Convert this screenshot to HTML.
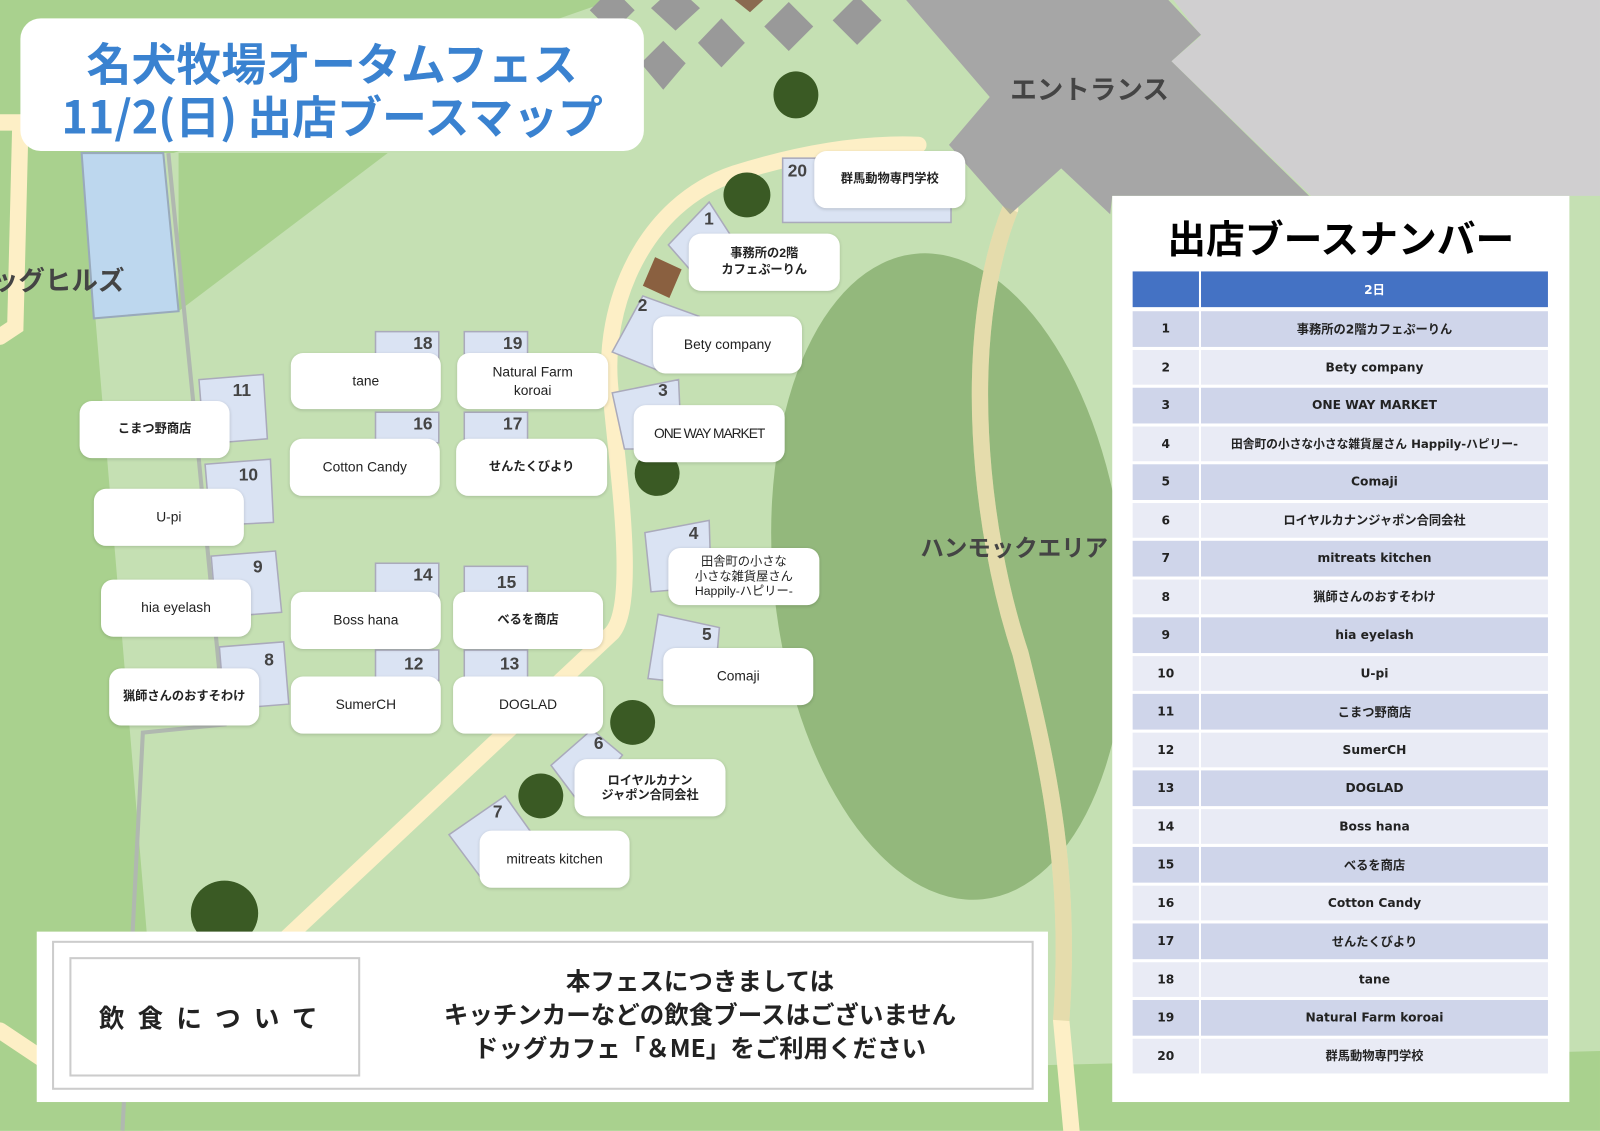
<!DOCTYPE html>
<html><head><meta charset="utf-8"><style>
*{margin:0;padding:0;box-sizing:border-box}
body{width:1600px;height:1131px;overflow:hidden;background:#c5e0b3;font-family:"Liberation Sans","Noto Sans CJK JP",sans-serif}
#bg{position:absolute;left:0;top:0}
#c{position:absolute;left:0;top:0;width:1568px;height:1108px;transform:scale(1.0204);transform-origin:0 0}
.lb{position:absolute;background:#fff;border-radius:12px;box-shadow:0 1px 3px rgba(0,0,0,.15);display:flex;align-items:center;justify-content:center;text-align:center;font-size:13.5px;color:#222;line-height:1.3}
.n{position:absolute;font-size:17px;font-weight:bold;color:#444}
.title{position:absolute;left:20px;top:18px;width:611px;height:130px;background:#fff;border-radius:20px;color:#3a82d0;font-weight:bold;font-size:44px;line-height:52px;text-align:center;padding-top:16px;font-family:"Noto Sans CJK JP",sans-serif}
.area{position:absolute;font-weight:bold;color:#444;font-size:26px;font-family:"Noto Sans CJK JP",sans-serif}
#panel{position:absolute;left:1090px;top:192px;width:448px;height:888px;background:#fff}
#panel h1{position:absolute;left:0;width:448px;top:12px;text-align:center;font-size:38px;font-family:"Noto Sans CJK JP",sans-serif;font-weight:bold;color:#000}
.row{position:absolute;left:20px;width:407px;height:34.5px;font-size:12px;font-weight:bold;color:#222;font-family:"DejaVu Sans","Noto Sans CJK JP",sans-serif}
.row div{position:absolute;top:0;height:100%;display:flex;align-items:center;justify-content:center}
.row .a{left:0;width:65px}.row .b{left:67px;width:340px}
</style></head><body>
<svg id="bg" width="1600" height="1131" viewBox="0 0 1600 1131">
<g transform="scale(1.0204)">
<rect width="1568" height="1108" fill="#c5e0b3"/>
<polygon points="0,150 80,150 160,1108 0,1108" fill="#a9d18e"/>
<polygon points="175,150 380,150 175,305" fill="#a9d18e"/>
<polygon points="0,0 600,0 170,150 0,150" fill="#a9d18e"/>
<polygon points="0,1070 1568,1030 1568,1108 0,1108" fill="#a9d18e"/>
<polygon points="80,150 160,150 175,305 92,312" fill="#bdd7ee" stroke="#9ab" stroke-width="2"/>
<polyline points="165,150 190,400 220,710 140,718 120,1108" fill="none" stroke="#b0b8b0" stroke-width="4"/>
<g fill="#999">
<polygon points="650,40 672,62 650,88 628,62"/>
<polygon points="707,18 730,42 707,66 684,42"/>
<polygon points="773,2 797,26 773,50 749,26"/>
<polygon points="840,-4 864,20 840,44 816,20"/>
<polygon points="662,-14 686,8 662,30 638,8"/>
<polygon points="600,-12 622,10 600,32 578,10"/>
</g>
<polygon points="720,0 748,0 735,12" fill="#8a6a50"/>
<polygon points="1150,0 1568,0 1568,192 1285,192 1148,60 1177,35" fill="#d0cfd0"/>
<ellipse cx="930" cy="565" rx="172" ry="318" transform="rotate(-6 930 565)" fill="#93b87c"/>
<g fill="none" stroke="#fdefc6" stroke-width="16" stroke-linecap="round">
<path d="M280,920 L600,620 C625,590 605,460 598,380 C590,300 630,200 720,170 C790,148 850,140 900,142"/>
<path d="M990,205 C940,330 960,520 1000,640 C1030,760 1050,860 1040,1000 L1050,1108"/>
<path d="M0,120 L20,120 L15,320 L0,330"/>
<path d="M0,1010 L60,1050"/>
</g>
<polygon points="888,0 1145,0 1177,34 1148,60 1283,192 1090,192 1088,210 1040,165 990,210 930,142 970,95" fill="#a6a6a6"/>
<path d="M990,205 C940,330 960,520 1000,640 C1030,760 1050,860 1040,1000" fill="none" stroke="#b7b97a" stroke-width="16" opacity=".35"/>
<g fill="#3a5a24">
<ellipse cx="780" cy="93" rx="22" ry="23"/>
<ellipse cx="732" cy="191" rx="23" ry="22"/>
<ellipse cx="644" cy="464" rx="22" ry="22"/>
<ellipse cx="620" cy="708" rx="22" ry="22"/>
<ellipse cx="530" cy="780" rx="22" ry="22"/>
<ellipse cx="220" cy="895" rx="33" ry="32"/>
</g>
<g fill="#dae3f3" stroke="#aab" stroke-width="1.5">
<rect x="767" y="155" width="165" height="63"/>
<polygon points="695,198 735,260 690,280 655,240"/>
<polygon points="642,252 668,264 656,292 630,280" fill="#8a6040" stroke="none"/>
<polygon points="630,290 685,310 650,365 600,345"/>
<polygon points="600,385 665,372 668,440 612,440"/>
<polygon points="632,522 695,510 697,575 638,580"/>
<polygon points="645,602 705,615 700,672 635,665"/>
<polygon points="580,715 610,740 570,790 540,750"/>
<polygon points="495,780 520,815 475,865 440,818"/>
<rect x="368" y="325" width="62" height="30"/><rect x="455" y="325" width="62" height="30"/>
<rect x="368" y="404" width="62" height="30"/><rect x="455" y="404" width="62" height="30"/>
<polygon points="195,372 258,367 262,430 200,435"/>
<polygon points="201,455 265,450 268,512 206,515"/>
<polygon points="207,545 270,540 276,600 212,605"/>
<polygon points="215,634 278,629 283,690 220,695"/>
<rect x="368" y="552" width="62" height="35"/><rect x="455" y="555" width="62" height="30"/>
<rect x="368" y="637" width="62" height="30"/><rect x="455" y="637" width="62" height="30"/>
</g>
</g>
</svg>
<div id="c">
<div class="title">名犬牧場オータムフェス<br>11/2(日) 出店ブースマップ</div>
<div class="area" style="left:-8px;top:255px">ッグヒルズ</div>
<div class="area" style="left:990px;top:68px">エントランス</div>
<div class="area" style="left:902px;top:518px;font-size:23px">ハンモックエリア</div>

<div class="n" style="left:772px;top:158px">20</div>
<div class="n" style="left:690px;top:205px">1</div>
<div class="n" style="left:625px;top:290px">2</div>
<div class="n" style="left:645px;top:373px">3</div>
<div class="n" style="left:675px;top:513px">4</div>
<div class="n" style="left:688px;top:612px">5</div>
<div class="n" style="left:582px;top:719px">6</div>
<div class="n" style="left:483px;top:786px">7</div>
<div class="n" style="left:259px;top:637px">8</div>
<div class="n" style="left:248px;top:546px">9</div>
<div class="n" style="left:234px;top:456px">10</div>
<div class="n" style="left:228px;top:373px">11</div>
<div class="n" style="left:396px;top:641px">12</div>
<div class="n" style="left:490px;top:641px">13</div>
<div class="n" style="left:405px;top:554px">14</div>
<div class="n" style="left:487px;top:561px">15</div>
<div class="n" style="left:405px;top:406px">16</div>
<div class="n" style="left:493px;top:406px">17</div>
<div class="n" style="left:405px;top:327px">18</div>
<div class="n" style="left:493px;top:327px">19</div>

<div class="lb" style="left:798px;top:148px;width:148px;height:56px;font-size:12px;font-weight:bold">群馬動物専門学校</div>
<div class="lb" style="left:675px;top:229px;width:148px;height:56px;font-size:12px;font-weight:bold">事務所の2階<br>カフェぷーりん</div>
<div class="lb" style="left:640px;top:310px;width:146px;height:56px">Bety company</div>
<div class="lb" style="left:621px;top:397px;width:148px;height:56px;letter-spacing:-1px">ONE WAY MARKET</div>
<div class="lb" style="left:655px;top:537px;width:148px;height:56px;font-size:12px;line-height:1.2">田舎町の小さな<br>小さな雑貨屋さん<br>Happily-ハピリー-</div>
<div class="lb" style="left:650px;top:635px;width:147px;height:56px">Comaji</div>
<div class="lb" style="left:563px;top:744px;width:148px;height:56px;font-size:12px;font-weight:bold;line-height:1.2">ロイヤルカナン<br>ジャポン合同会社</div>
<div class="lb" style="left:470px;top:814px;width:147px;height:56px">mitreats kitchen</div>
<div class="lb" style="left:285px;top:346px;width:147px;height:55px">tane</div>
<div class="lb" style="left:448px;top:346px;width:148px;height:55px">Natural Farm<br>koroai</div>
<div class="lb" style="left:284px;top:430px;width:147px;height:56px">Cotton Candy</div>
<div class="lb" style="left:447px;top:430px;width:148px;height:56px;font-size:12px;font-weight:bold">せんたくびより</div>
<div class="lb" style="left:78px;top:393px;width:147px;height:56px;font-size:12px;font-weight:bold">こまつ野商店</div>
<div class="lb" style="left:92px;top:479px;width:147px;height:56px">U-pi</div>
<div class="lb" style="left:99px;top:568px;width:147px;height:56px">hia eyelash</div>
<div class="lb" style="left:107px;top:655px;width:147px;height:56px;font-size:12px;font-weight:bold">猟師さんのおすそわけ</div>
<div class="lb" style="left:285px;top:580px;width:147px;height:56px">Boss hana</div>
<div class="lb" style="left:444px;top:580px;width:147px;height:56px;font-size:12px;font-weight:bold">べるを商店</div>
<div class="lb" style="left:285px;top:663px;width:147px;height:56px">SumerCH</div>
<div class="lb" style="left:444px;top:663px;width:147px;height:56px">DOGLAD</div>

<div style="position:absolute;left:36px;top:913px;width:991px;height:167px;background:#fff">
 <div style="position:absolute;left:15px;top:9px;width:962px;height:146px;border:2px solid #ccc"></div>
 <div style="position:absolute;left:32px;top:25px;width:285px;height:117px;border:2px solid #ccc;display:flex;align-items:center;justify-content:center;font-size:25px;font-weight:bold;letter-spacing:13px;color:#222;font-family:'Noto Sans CJK JP',sans-serif">飲食について</div>
 <div style="position:absolute;left:330px;top:30px;width:640px;text-align:center;font-size:24px;line-height:33px;font-weight:bold;color:#222;font-family:'Noto Sans CJK JP',sans-serif">本フェスにつきましては<br>キッチンカーなどの飲食ブースはございません<br>ドッグカフェ「＆ME」をご利用ください</div>
</div>

<div id="panel">
<h1>出店ブースナンバー</h1>
<div class="row" style="top:74px;background:#fff"><div class="a" style="background:#4472c4"></div><div class="b" style="background:#4472c4;color:#fff">2日</div></div>
<div class="row" style="top:113px"><div class="a" style="background:#cfd5ea">1</div><div class="b" style="background:#cfd5ea">事務所の2階カフェぷーりん</div></div>
<div class="row" style="top:150.5px"><div class="a" style="background:#e9ebf5">2</div><div class="b" style="background:#e9ebf5">Bety company</div></div>
<div class="row" style="top:188px"><div class="a" style="background:#cfd5ea">3</div><div class="b" style="background:#cfd5ea">ONE WAY MARKET</div></div>
<div class="row" style="top:225.5px"><div class="a" style="background:#e9ebf5">4</div><div class="b" style="background:#e9ebf5;font-size:11.5px">田舎町の小さな小さな雑貨屋さん Happily-ハピリー-</div></div>
<div class="row" style="top:263px"><div class="a" style="background:#cfd5ea">5</div><div class="b" style="background:#cfd5ea">Comaji</div></div>
<div class="row" style="top:300.5px"><div class="a" style="background:#e9ebf5">6</div><div class="b" style="background:#e9ebf5">ロイヤルカナンジャポン合同会社</div></div>
<div class="row" style="top:338px"><div class="a" style="background:#cfd5ea">7</div><div class="b" style="background:#cfd5ea">mitreats kitchen</div></div>
<div class="row" style="top:375.5px"><div class="a" style="background:#e9ebf5">8</div><div class="b" style="background:#e9ebf5">猟師さんのおすそわけ</div></div>
<div class="row" style="top:413px"><div class="a" style="background:#cfd5ea">9</div><div class="b" style="background:#cfd5ea">hia eyelash</div></div>
<div class="row" style="top:450.5px"><div class="a" style="background:#e9ebf5">10</div><div class="b" style="background:#e9ebf5">U-pi</div></div>
<div class="row" style="top:488px"><div class="a" style="background:#cfd5ea">11</div><div class="b" style="background:#cfd5ea">こまつ野商店</div></div>
<div class="row" style="top:525.5px"><div class="a" style="background:#e9ebf5">12</div><div class="b" style="background:#e9ebf5">SumerCH</div></div>
<div class="row" style="top:563px"><div class="a" style="background:#cfd5ea">13</div><div class="b" style="background:#cfd5ea">DOGLAD</div></div>
<div class="row" style="top:600.5px"><div class="a" style="background:#e9ebf5">14</div><div class="b" style="background:#e9ebf5">Boss hana</div></div>
<div class="row" style="top:638px"><div class="a" style="background:#cfd5ea">15</div><div class="b" style="background:#cfd5ea">べるを商店</div></div>
<div class="row" style="top:675.5px"><div class="a" style="background:#e9ebf5">16</div><div class="b" style="background:#e9ebf5">Cotton Candy</div></div>
<div class="row" style="top:713px"><div class="a" style="background:#cfd5ea">17</div><div class="b" style="background:#cfd5ea">せんたくびより</div></div>
<div class="row" style="top:750.5px"><div class="a" style="background:#e9ebf5">18</div><div class="b" style="background:#e9ebf5">tane</div></div>
<div class="row" style="top:788px"><div class="a" style="background:#cfd5ea">19</div><div class="b" style="background:#cfd5ea">Natural Farm koroai</div></div>
<div class="row" style="top:825.5px"><div class="a" style="background:#e9ebf5">20</div><div class="b" style="background:#e9ebf5">群馬動物専門学校</div></div>
</div>
</div>
</body></html>
